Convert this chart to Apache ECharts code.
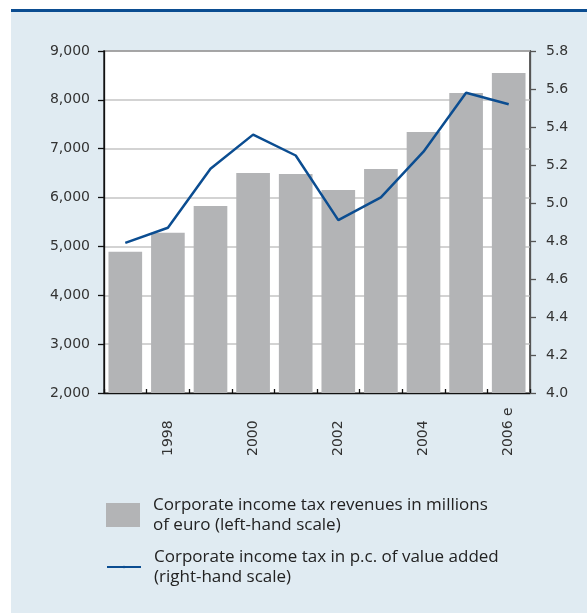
<!DOCTYPE html>
<html>
<head>
<meta charset="utf-8">
<script src="https://cdn.jsdelivr.net/npm/echarts@6/dist/echarts.min.js"></script>
<style>
html,body{margin:0;padding:0;background:#fff;}
#chart{width:587px;height:613px;}
</style>
</head>
<body>
<div id="chart"></div>
<script>
const categories = ['1997','1998','1999','2000','2001','2002','2003','2004','2005','2006 e'];
const revenues = [4890, 5280, 5830, 6505, 6485, 6157, 6587, 7344, 8141, 8550];
const shareOfValueAdded = [4.79, 4.87, 5.18, 5.36, 5.25, 4.91, 5.03, 5.27, 5.58, 5.52];
const barName = 'Corporate income tax revenues in millions\nof euro (left-hand scale)';
const lineName = 'Corporate income tax in p.c. of value added\n(right-hand scale)';

const chart = echarts.init(document.getElementById('chart'), null, {renderer: 'canvas'});
const font = 'DejaVu Sans';
const legendText = {fontFamily: 'Open Sans', fontSize: 17, color: '#222', lineHeight: 20, padding: [0, 0, 0, 8]};
chart.setOption({
  animation: false,
  backgroundColor: '#ffffff',
  graphic: [
    {type: 'rect', z: -10, silent: true, shape: {x: 11, y: 10, width: 576, height: 603}, style: {fill: '#e0ebf2'}},
    {type: 'rect', z: -9, silent: true, shape: {x: 11, y: 9, width: 576, height: 3}, style: {fill: '#0b4d91'}}
  ],
  grid: {left: 104, right: 57, top: 51, bottom: 220, show: true, backgroundColor: '#ffffff', borderColor: '#111', borderWidth: 1.3},
  legend: [
    {data: [barName], left: 101, top: 490, itemWidth: 34, itemHeight: 24, itemGap: 13, textStyle: legendText, icon: 'rect', selectedMode: false},
    {data: [lineName], left: 101, top: 542, itemWidth: 34, itemHeight: 3, itemGap: 13, textStyle: legendText, selectedMode: false}
  ],
  xAxis: {
    type: 'category', data: categories, boundaryGap: true,
    axisLine: {lineStyle: {color: '#111', width: 1.3}},
    axisTick: {show: true, inside: true, length: 4, lineStyle: {color: '#111', width: 1.3}, interval: 0},
    axisLabel: {
      rotate: 90, align: 'left', verticalAlign: 'middle', margin: 63,
      interval: function (i) { return i % 2 === 1; },
      fontFamily: font, fontSize: 14, color: '#333'
    },
    splitLine: {show: false}
  },
  yAxis: [
    {
      type: 'value', min: 2000, max: 9000, interval: 1000, position: 'left',
      axisLine: {show: true, lineStyle: {color: '#111', width: 1.3}},
      axisTick: {show: true, length: 6, lineStyle: {color: '#111', width: 1.3}},
      axisLabel: {margin: 14, fontFamily: font, fontSize: 14, color: '#333',
        formatter: function (v) { return v.toLocaleString('en-US'); }},
      splitLine: {show: true, lineStyle: {color: '#c4c4c4', width: 1.5}}
    },
    {
      type: 'value', min: 4.0, max: 5.8, interval: 0.2, position: 'right',
      axisLine: {show: true, lineStyle: {color: '#555', width: 1.3}},
      axisTick: {show: true, length: 6, lineStyle: {color: '#555', width: 1.3}},
      axisLabel: {margin: 16, fontFamily: font, fontSize: 14, color: '#333',
        formatter: function (v) { return v.toFixed(1); }},
      splitLine: {show: false}
    }
  ],
  series: [
    {name: barName, type: 'bar', data: revenues, yAxisIndex: 0, barCategoryGap: '21%',
      itemStyle: {color: '#b3b4b6'}},
    {name: lineName, type: 'line', data: shareOfValueAdded, yAxisIndex: 1, symbol: 'none',
      lineStyle: {color: '#0b4d91', width: 2.5}, itemStyle: {color: '#0b4d91'}, z: 5}
  ]
});
</script>
</body>
</html>
